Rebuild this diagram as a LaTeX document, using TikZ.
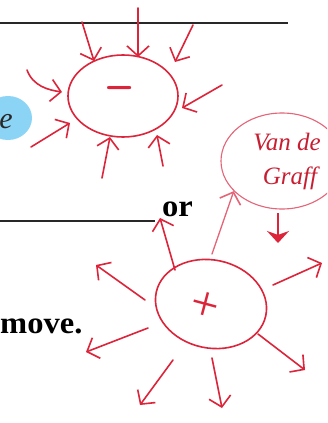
\documentclass[tikz,border=0pt]{standalone}
\usepackage{fontspec}
\setmainfont{Liberation Serif}
\usetikzlibrary{arrows.meta,shapes.geometric}
\definecolor{hred}{RGB}{220,36,58}
\definecolor{hdark}{RGB}{200,30,50}
\definecolor{hpink}{RGB}{228,100,120}
\definecolor{hblue}{RGB}{120,205,245}
\definecolor{inkgray}{RGB}{40,40,40}
\tikzset{
  redarrow/.style={draw=hred, line width=1.6pt, line cap=round,
    -{Straight Barb[length=10pt,width=22pt,line width=1.6pt]}},
  charge/.style={ellipse, draw=hred, line width=1.6pt, inner sep=0pt},
  printed/.style={font=\fontsize{31}{31}\selectfont\bfseries, text=black, inner sep=0pt},
  rule/.style={draw=inkgray, line width=1.8pt},
  hand/.style={font=\fontsize{25}{25}\selectfont\itshape, text=hdark, inner sep=0pt}
}
\begin{document}
\begin{tikzpicture}[x=1pt,y=-1pt]
\useasboundingbox (0,0) rectangle (327,423);
\clip (0,0) rectangle (327,423);
\fill[white] (0,0) rectangle (327,423);

% printed rules
\coordinate (r1a) at (0,23); \coordinate (r1b) at (288,23);
\draw[rule] (r1a) -- (r1b);
\coordinate (r2a) at (0,221); \coordinate (r2b) at (155,221);
\draw[rule] (r2a) -- (r2b);

% blue highlight with cut-off letter
\fill[hblue, opacity=0.85] (8,118) ellipse [x radius=24pt, y radius=22pt];
\node[font=\fontsize{30}{30}\selectfont\itshape, text=inkgray, inner sep=0pt] (eglyph) at (6,122) {e};

% printed words
\node[printed, anchor=base west, xscale=1.05] (or) at (162,216) {or};
\node[printed, anchor=base west, xscale=1.05] (move) at (0,333) {move.};

% negative charge
\node[charge, minimum width=110pt, minimum height=82pt] (neg) at (123,96) {};
\node[font=\sffamily\bfseries\fontsize{44}{44}\selectfont, text=hred, inner sep=0pt] (minus) at (120,93) {--};

% positive charge
\node[charge, minimum width=112pt, minimum height=88pt, rotate=-12] (pos) at (211,304) {};
\node[font=\fontsize{50}{50}\selectfont, text=hred, inner sep=0pt, rotate=-15] (plus) at (205,307) {+};

% Van de Graaff
\node[ellipse, draw=hpink, line width=1.1pt, minimum width=122pt, minimum height=96pt] (vdg) at (282,161) {};
\node[hand] (vdgt1) at (287,142) {Van de};
\node[hand] (vdgt2) at (290,178) {Graff};

% inward arrows
\coordinate (i1s) at (82,22);  \coordinate (i1e) at (94,61);
\coordinate (i2s) at (138,8);  \coordinate (i2e) at (138,57);
\coordinate (i3s) at (193,25); \coordinate (i3e) at (175,62);
\coordinate (i4s) at (27,70);  \coordinate (i4e) at (62,92);
\coordinate (i5s) at (31,147); \coordinate (i5e) at (70,123);
\coordinate (i6s) at (222,85); \coordinate (i6e) at (182,108);
\coordinate (i7s) at (102,178);\coordinate (i7e) at (110,137);
\coordinate (i8s) at (163,166);\coordinate (i8e) at (157,135);
\draw[redarrow] (i1s) -- (i1e);
\draw[redarrow] (i2s) -- (i2e);
\draw[redarrow] (i3s) -- (i3e);
\draw[redarrow] (i4s) .. controls (33,86) and (48,90) .. (i4e);
\draw[redarrow] (i5s) -- (i5e);
\draw[redarrow] (i6s) -- (i6e);
\draw[redarrow] (i7s) -- (i7e);
\draw[redarrow] (i8s) -- (i8e);

% outward arrows
\coordinate (o1s) at (175,270); \coordinate (o1e) at (160,218);
\coordinate (o2s) at (145,300); \coordinate (o2e) at (96,265);
\coordinate (o3s) at (148,328); \coordinate (o3e) at (86,352);
\coordinate (o4s) at (173,360); \coordinate (o4e) at (140,405);
\coordinate (o5s) at (212,358); \coordinate (o5e) at (222,408);
\coordinate (o6s) at (258,334); \coordinate (o6e) at (305,370);
\coordinate (o7s) at (273,285); \coordinate (o7e) at (322,263);
\draw[redarrow] (o1s) -- (o1e);
\draw[redarrow] (o2s) -- (o2e);
\draw[redarrow] (o3s) -- (o3e);
\draw[redarrow] (o4s) -- (o4e);
\draw[redarrow] (o5s) -- (o5e);
\draw[redarrow] (o6s) -- (o6e);
\draw[redarrow] (o7s) -- (o7e);

% arrow to Van de Graaff
\coordinate (u1s) at (212,254);
\draw[redarrow, draw=hpink, line width=1.3pt] (u1s) -- (vdg.212);

% small down arrow
\coordinate (d1s) at (278,213); \coordinate (d1e) at (278,243);
\draw[draw=hred, line width=1.6pt, -{Stealth[length=12pt,width=22pt]}] (d1s) -- (d1e);
\end{tikzpicture}
\end{document}
